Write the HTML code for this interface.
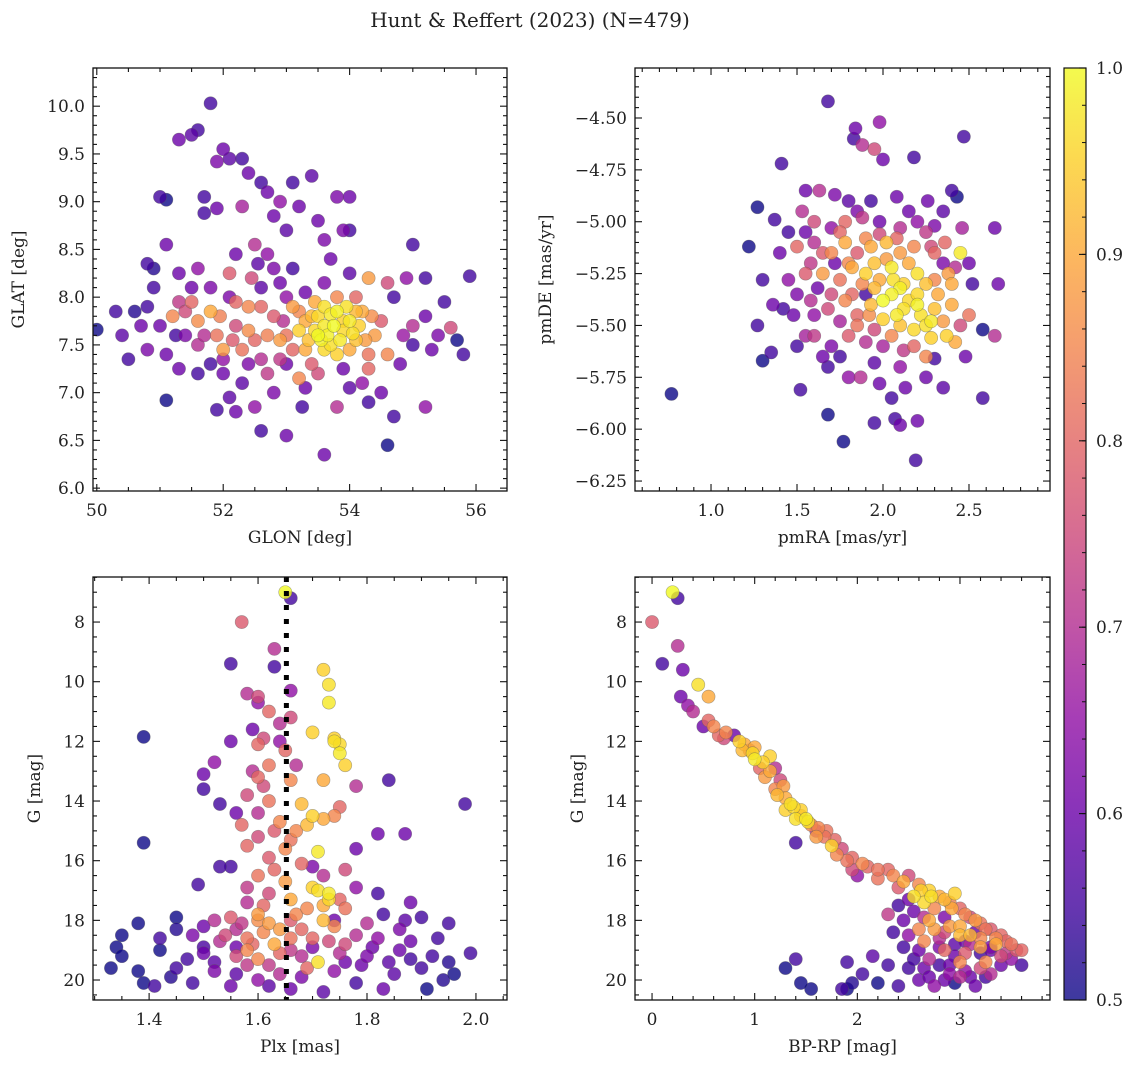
<!DOCTYPE html>
<html><head><meta charset="utf-8">
<style>
html,body{margin:0;padding:0;background:#fff;}
svg text{font-family:"DejaVu Serif","Liberation Serif",serif;fill:#222;}
</style></head>
<body>
<svg id="fig" width="1136" height="1067" viewBox="0 0 1136 1067" xmlns="http://www.w3.org/2000/svg">
<text x="530" y="27" font-size="20" text-anchor="middle">Hunt &amp; Reffert (2023) (N=479)</text>
<defs><linearGradient id="cbg" x1="0" y1="1" x2="0" y2="0">
<stop offset="0" stop-color="#0d0887"/><stop offset="0.1" stop-color="#41049d"/><stop offset="0.2" stop-color="#6a00a8"/><stop offset="0.3" stop-color="#8f0da4"/><stop offset="0.4" stop-color="#b12a90"/><stop offset="0.5" stop-color="#cc4778"/><stop offset="0.6" stop-color="#e16462"/><stop offset="0.7" stop-color="#f2844b"/><stop offset="0.8" stop-color="#fca636"/><stop offset="0.9" stop-color="#fcce25"/><stop offset="1" stop-color="#f0f921"/></linearGradient></defs>
</svg>
<script>
// ---- data (x, y, membership probability) ----
const skyStars=[[51.8,10.03,.55],[51.6,9.75,.55],[51.5,9.7,.58],[51.3,9.65,.6],[52.0,9.55,.6],[52.1,9.45,.58],[52.3,9.45,.55],[51.9,9.42,.62],[52.4,9.3,.6],[52.6,9.2,.55],[53.1,9.2,.55],[53.4,9.27,.58],[52.7,9.1,.6],[51.7,9.05,.55],[51.1,9.02,.5],[51.0,9.05,.55],[53.8,9.05,.62],[54.0,9.05,.6],[52.9,9.0,.65],[53.2,8.95,.6],[52.3,8.95,.68],[51.9,8.93,.6],[51.7,8.88,.55],[52.8,8.85,.6],[53.5,8.8,.6],[54.0,8.7,.55],[53.9,8.7,.62],[53.0,8.7,.58],[55.0,8.55,.55],[51.1,8.55,.6],[52.5,8.55,.7],[53.6,8.6,.62],[52.2,8.45,.6],[52.7,8.45,.65],[53.7,8.4,.6],[55.9,8.22,.55],[50.8,8.35,.55],[50.9,8.3,.52],[51.3,8.25,.6],[51.6,8.3,.65],[52.1,8.25,.78],[52.8,8.3,.62],[53.1,8.3,.55],[54.3,8.2,.88],[54.6,8.15,.75],[54.9,8.2,.65],[55.5,7.95,.55],[55.2,7.8,.6],[55.0,7.7,.7],[55.6,7.68,.75],[50.0,7.66,.5],[50.3,7.85,.55],[50.6,7.85,.52],[50.4,7.6,.58],[50.7,7.7,.6],[50.8,7.45,.62],[51.1,7.4,.6],[51.2,7.8,.85],[51.5,7.95,.8],[51.4,7.6,.62],[51.6,7.5,.7],[51.8,7.85,.9],[51.9,7.6,.82],[52.0,7.45,.88],[52.2,7.7,.75],[52.4,7.9,.85],[52.5,7.55,.8],[52.6,7.35,.7],[52.8,7.8,.78],[52.9,7.55,.88],[53.0,7.3,.6],[53.1,7.9,.88],[53.2,7.65,.95],[53.3,7.45,.9],[53.4,7.8,.92],[53.5,7.6,1.0],[53.6,7.7,.98],[53.7,7.5,.97],[53.8,7.85,.99],[53.9,7.65,.96],[54.0,7.75,.98],[54.1,7.55,.93],[53.6,7.9,.97],[53.8,7.4,.95],[54.2,7.85,.9],[54.4,7.6,.88],[54.6,7.4,.85],[54.8,7.3,.6],[55.0,7.5,.55],[55.3,7.45,.6],[55.7,7.55,.5],[55.8,7.4,.55],[54.5,7.0,.6],[54.7,6.75,.55],[55.2,6.85,.65],[54.6,6.45,.5],[53.6,6.35,.6],[53.0,6.55,.6],[52.6,6.6,.55],[52.5,6.85,.65],[51.9,6.82,.55],[52.2,6.8,.6],[51.1,6.92,.5],[52.8,7.0,.62],[53.2,7.15,.85],[53.8,6.85,.7],[54.0,7.05,.58],[51.6,7.2,.55],[52.0,7.2,.6],[52.3,7.1,.58],[50.5,7.35,.55],[51.3,7.25,.6],[52.7,7.2,.72],[53.4,7.3,.78],[54.3,7.25,.8],[52.1,8.0,.62],[52.6,8.1,.58],[53.3,8.05,.6],[54.7,8.0,.55],[50.9,8.1,.55],[51.5,8.1,.6],[53.55,7.55,.99],[53.95,7.9,.97],[53.75,7.7,1.0],[53.45,7.65,.96],[54.15,7.7,.95],[53.3,7.75,.9],[52.3,7.45,.82],[51.6,7.75,.86],[52.7,7.6,.84]];
const skyStarsExtra=[[53.65,7.6,.99],[53.85,7.55,.98],[54.05,7.62,.97],[53.5,7.8,.96],[53.7,7.82,.98],[53.9,7.75,.95],[54.1,7.85,.92],[53.35,7.55,.93],[53.6,7.45,.96],[54.0,7.45,.9],[54.25,7.55,.88],[53.2,7.85,.85],[54.35,7.8,.86],[53.45,7.95,.9],[53.8,8.0,.85],[54.1,8.0,.8],[53.0,7.6,.82],[53.1,7.45,.8],[52.95,7.75,.7],[54.3,7.4,.82],[54.5,7.75,.78],[53.0,8.0,.65],[52.6,7.9,.8],[52.4,7.65,.86],[52.15,7.55,.78],[51.95,7.8,.84],[51.7,7.6,.7],[51.4,7.85,.75],[51.25,7.6,.55],[51.0,7.7,.6],[50.8,7.9,.55],[52.4,7.3,.62],[52.0,7.35,.65],[51.8,7.3,.55],[52.9,7.35,.72],[53.5,7.2,.75],[53.9,7.25,.6],[54.2,7.1,.65],[53.3,7.05,.6],[52.45,8.2,.75],[52.9,8.15,.6],[53.6,8.15,.62],[54.0,8.25,.58],[55.2,8.2,.55],[55.4,7.6,.62],[54.85,7.6,.66],[52.55,8.35,.58],[51.8,8.1,.62],[52.2,7.95,.8],[51.3,7.95,.72],[53.25,6.85,.55],[52.1,6.95,.58],[54.3,6.9,.55]];
const pmStars=[[0.77,-5.83,.5],[1.68,-4.42,.55],[1.84,-4.55,.6],[1.98,-4.52,.65],[1.83,-4.6,.55],[1.88,-4.63,.7],[1.95,-4.65,.75],[2.47,-4.59,.55],[2.18,-4.69,.55],[1.41,-4.72,.55],[2.0,-4.7,.6],[2.4,-4.85,.55],[2.43,-4.88,.5],[1.55,-4.85,.6],[1.63,-4.85,.7],[1.72,-4.87,.62],[1.8,-4.9,.58],[1.93,-4.9,.55],[2.08,-4.88,.6],[2.26,-4.9,.6],[2.35,-4.95,.58],[1.27,-4.93,.5],[1.37,-4.99,.55],[1.53,-4.95,.7],[1.6,-5.0,.75],[1.7,-5.03,.65],[1.78,-5.0,.8],[1.88,-4.98,.72],[1.98,-5.0,.6],[2.1,-5.03,.7],[2.2,-5.0,.65],[2.3,-5.02,.62],[2.46,-5.03,.68],[2.65,-5.03,.6],[1.22,-5.12,.5],[1.4,-5.15,.6],[1.5,-5.12,.8],[1.6,-5.1,.7],[1.7,-5.15,.85],[1.78,-5.1,.9],[1.85,-5.15,.78],[1.93,-5.12,.9],[2.02,-5.1,.92],[2.1,-5.15,.88],[2.18,-5.12,.85],[2.28,-5.12,.75],[2.36,-5.1,.8],[2.45,-5.15,.98],[1.3,-5.28,.55],[1.45,-5.28,.65],[1.55,-5.25,.78],[1.65,-5.25,.88],[1.75,-5.28,.82],[1.82,-5.22,.9],[1.9,-5.25,.95],[1.98,-5.28,.9],[2.05,-5.22,.98],[2.12,-5.3,.95],[2.2,-5.25,.97],[2.3,-5.28,.85],[2.4,-5.3,.9],[2.52,-5.3,.55],[2.67,-5.3,.6],[1.27,-5.5,.55],[1.36,-5.4,.6],[1.48,-5.45,.6],[1.58,-5.38,.7],[1.68,-5.42,.75],[1.78,-5.38,.85],[1.85,-5.45,.8],[1.93,-5.4,.92],[2.0,-5.38,1.0],[2.08,-5.45,.98],[2.15,-5.38,.96],[2.22,-5.45,.97],[2.3,-5.42,.93],[2.4,-5.4,.9],[2.5,-5.45,.82],[2.58,-5.52,.5],[2.65,-5.55,.7],[1.3,-5.67,.5],[1.35,-5.63,.55],[1.5,-5.6,.55],[1.6,-5.55,.72],[1.7,-5.6,.62],[1.8,-5.55,.78],[1.9,-5.58,.7],[2.05,-5.55,.85],[2.18,-5.6,.8],[2.28,-5.56,.95],[2.37,-5.55,.95],[2.48,-5.65,.6],[1.52,-5.81,.55],[1.68,-5.7,.55],[1.8,-5.75,.65],[1.87,-5.75,.7],[1.95,-5.68,.58],[2.1,-5.7,.65],[2.25,-5.75,.6],[2.3,-5.66,.55],[2.58,-5.85,.55],[1.68,-5.93,.5],[1.77,-6.06,.5],[1.95,-5.97,.55],[2.07,-5.95,.55],[2.1,-5.98,.6],[2.2,-5.96,.6],[2.19,-6.15,.55],[2.13,-5.8,.6],[1.6,-5.45,.65],[2.0,-5.6,.68],[2.1,-5.32,.99],[2.25,-5.5,.97],[1.95,-5.2,.93],[2.15,-5.2,.9],[1.72,-5.2,.6],[1.9,-5.35,.55],[2.35,-5.2,.62]];
const pmStarsExtra=[[2.05,-5.35,.99],[2.12,-5.42,.97],[2.2,-5.35,.96],[2.28,-5.48,.98],[2.0,-5.47,.95],[1.95,-5.32,.92],[2.25,-5.3,.93],[2.32,-5.35,.9],[2.18,-5.52,.96],[2.1,-5.5,.93],[1.88,-5.3,.85],[1.82,-5.35,.8],[2.38,-5.25,.88],[2.02,-5.18,.88],[1.9,-5.08,.85],[1.75,-5.05,.8],[1.65,-5.15,.78],[1.58,-5.2,.72],[1.5,-5.35,.62],[1.62,-5.32,.6],[1.7,-5.35,.75],[1.75,-5.48,.68],[1.85,-5.5,.82],[1.95,-5.52,.75],[2.12,-5.62,.72],[2.25,-5.65,.85],[2.35,-5.48,.88],[2.45,-5.5,.75],[2.42,-5.22,.7],[2.5,-5.2,.6],[1.55,-5.05,.6],[1.45,-5.05,.55],[1.42,-5.42,.55],[1.55,-5.55,.68],[1.65,-5.65,.6],[1.75,-5.65,.55],[1.98,-5.78,.6],[2.05,-5.85,.55],[2.35,-5.8,.58],[1.85,-4.95,.62],[2.15,-4.95,.6],[2.25,-5.05,.72],[1.98,-5.06,.75],[2.08,-5.08,.8],[1.8,-5.2,.85],[2.3,-5.15,.8],[2.2,-5.4,.99],[2.06,-5.28,.97],[1.92,-5.45,.86],[2.42,-5.58,.9]];
const plxStars=[[1.65,7.0,1.0],[1.66,7.2,.55],[1.57,8.0,.78],[1.63,8.9,.7],[1.55,9.4,.55],[1.63,9.5,.55],[1.72,9.6,.95],[1.73,10.1,.97],[1.58,10.4,.7],[1.6,10.5,.75],[1.73,10.7,.98],[1.6,10.7,.65],[1.62,11.0,.8],[1.66,11.2,.75],[1.64,11.4,.7],[1.59,11.6,.6],[1.7,11.7,.95],[1.39,11.85,.5],[1.61,11.9,.75],[1.74,12.0,.97],[1.55,12.0,.6],[1.6,12.1,.8],[1.75,12.4,.98],[1.65,12.3,.8],[1.52,12.7,.65],[1.62,12.8,.82],[1.76,12.8,.95],[1.5,13.1,.6],[1.6,13.2,.8],[1.66,13.3,.85],[1.72,13.3,.9],[1.84,13.3,.55],[1.78,13.5,.7],[1.58,13.8,.75],[1.62,14.0,.82],[1.68,14.1,.92],[1.53,14.1,.55],[1.75,14.2,.8],[1.6,14.4,.7],[1.7,14.5,.95],[1.64,14.7,.85],[1.57,14.8,.8],[1.72,14.6,.9],[1.67,15.0,.85],[1.82,15.1,.6],[1.39,15.4,.5],[1.6,15.2,.75],[1.58,15.5,.8],[1.65,15.6,.85],[1.71,15.7,.98],[1.62,15.9,.78],[1.55,16.2,.55],[1.68,16.1,.8],[1.76,16.3,.75],[1.6,16.5,.82],[1.65,16.7,.88],[1.7,16.9,.95],[1.49,16.8,.55],[1.73,17.1,.98],[1.78,16.9,.65],[1.82,17.1,.55],[1.88,17.4,.6],[1.62,17.1,.75],[1.58,17.4,.7],[1.72,17.5,.9],[1.76,17.6,.82],[1.67,17.8,.85],[1.6,17.8,.88],[1.55,17.9,.78],[1.45,17.9,.5],[1.9,17.9,.55],[1.38,18.1,.5],[1.5,18.2,.6],[1.56,18.3,.7],[1.62,18.1,.88],[1.68,18.3,.8],[1.74,18.2,.85],[1.8,18.1,.7],[1.86,18.3,.62],[1.95,18.1,.55],[1.35,18.5,.5],[1.42,18.6,.55],[1.48,18.5,.62],[1.53,18.7,.7],[1.58,18.6,.82],[1.63,18.8,.9],[1.7,18.6,.8],[1.76,18.8,.75],[1.82,18.6,.65],[1.88,18.7,.6],[1.93,18.6,.55],[1.34,18.9,.5],[1.42,19.0,.5],[1.5,19.1,.6],[1.56,19.2,.75],[1.6,19.3,.85],[1.66,19.0,.72],[1.71,19.4,.97],[1.75,19.1,.7],[1.8,19.2,.62],[1.86,19.0,.6],[1.92,19.2,.55],[1.99,19.1,.55],[1.33,19.6,.5],[1.38,19.7,.5],[1.45,19.6,.55],[1.52,19.7,.62],[1.58,19.5,.72],[1.64,19.8,.7],[1.69,19.6,.8],[1.74,19.7,.65],[1.79,19.5,.6],[1.85,19.8,.58],[1.9,19.6,.55],[1.96,19.8,.5],[1.39,20.1,.5],[1.41,20.2,.55],[1.48,20.1,.55],[1.55,20.2,.6],[1.6,20.0,.65],[1.66,20.3,.6],[1.72,20.4,.58],[1.78,20.1,.55],[1.83,20.3,.6],[1.91,20.3,.5],[1.98,14.1,.55],[1.87,15.1,.6],[1.5,13.6,.55],[1.61,18.4,.85],[1.64,19.1,.8],[1.58,19.0,.85],[1.7,18.9,.62],[1.56,18.9,.6],[1.73,17.3,.96],[1.74,18.0,.6]];
const plxStarsExtra=[[1.6,18.0,.86],[1.64,18.3,.88],[1.59,18.8,.8],[1.62,19.5,.72],[1.66,18.6,.82],[1.68,19.2,.7],[1.54,18.5,.75],[1.57,18.1,.72],[1.61,17.5,.8],[1.66,17.3,.9],[1.69,17.6,.85],[1.72,18.0,.92],[1.71,17.0,.97],[1.75,17.3,.8],[1.78,18.5,.7],[1.73,18.7,.75],[1.76,19.4,.6],[1.68,19.9,.62],[1.62,20.2,.58],[1.56,19.8,.58],[1.52,19.4,.58],[1.5,18.9,.56],[1.47,19.3,.55],[1.45,18.3,.52],[1.44,19.9,.52],[1.35,19.2,.5],[1.81,18.9,.6],[1.84,19.4,.58],[1.88,19.3,.55],[1.95,19.4,.52],[1.94,20.0,.52],[1.87,18.0,.58],[1.83,17.8,.55],[1.58,16.9,.72],[1.63,16.3,.8],[1.66,15.3,.82],[1.63,15.0,.78],[1.69,14.8,.92],[1.74,14.5,.85],[1.61,13.5,.75],[1.67,12.8,.7],[1.64,12.0,.65],[1.59,13.0,.7],[1.56,14.4,.6],[1.72,16.5,.7],[1.7,16.2,.62],[1.78,15.6,.6],[1.53,16.2,.55],[1.66,10.3,.65],[1.74,11.9,.95],[1.75,12.1,.96],[1.66,18.0,.78],[1.52,18.0,.7]];
const cmdStars=[[0.2,7.0,1.0],[0.25,7.2,.55],[0.0,8.0,.78],[0.25,8.8,.7],[0.1,9.4,.55],[0.3,9.6,.6],[0.45,10.1,.97],[0.55,10.5,.9],[0.28,10.5,.6],[0.35,10.8,.65],[0.5,11.5,.6],[0.6,11.5,.85],[0.65,11.8,.8],[0.8,11.8,.6],[0.9,12.1,.9],[0.95,12.3,.85],[1.0,12.6,.98],[1.15,12.5,.95],[1.05,12.9,.8],[1.1,13.2,.88],[1.25,13.3,.75],[1.2,13.6,.85],[1.3,13.9,.9],[1.35,14.1,.97],[1.45,14.3,.95],[1.5,14.6,.98],[1.55,14.8,.85],[1.7,15.0,.82],[1.6,15.2,.88],[1.75,15.5,.95],[1.8,15.8,.85],[1.9,16.0,.82],[2.1,16.2,.8],[2.3,16.3,.8],[2.5,16.5,.75],[2.6,16.8,.85],[2.7,17.0,.95],[2.8,17.2,.9],[2.9,17.4,.85],[3.0,17.6,.8],[3.1,17.9,.75],[3.2,18.1,.82],[3.3,18.3,.78],[3.4,18.5,.8],[3.5,18.8,.82],[3.6,19.0,.8],[1.4,15.4,.55],[2.0,16.5,.65],[0.7,11.9,.75],[0.85,12.0,.95],[1.0,12.2,.9],[1.2,12.9,.7],[1.3,14.3,.95],[1.4,14.6,.97],[1.6,15.0,.7],[1.95,16.3,.75],[2.2,16.6,.82],[2.4,16.9,.78],[2.55,17.2,.97],[2.65,17.4,.96],[2.75,17.6,.85],[2.95,17.1,.95],[2.5,17.3,.6],[2.4,17.5,.55],[2.3,17.8,.72],[2.35,18.4,.55],[2.5,18.5,.65],[2.6,18.3,.85],[2.7,18.0,.9],[2.8,18.6,.7],[2.9,18.2,.88],[3.0,18.5,.92],[3.1,18.8,.7],[3.2,18.6,.85],[3.3,19.0,.6],[3.4,19.2,.75],[3.5,19.3,.65],[3.6,19.5,.55],[2.6,19.0,.6],[2.7,19.3,.7],[2.8,19.5,.55],[2.9,19.8,.65],[3.0,19.4,.85],[3.1,19.9,.6],[3.2,19.6,.75],[3.3,19.8,.7],[2.5,19.6,.55],[2.6,20.0,.6],[2.75,20.2,.65],[2.95,20.1,.5],[3.15,20.2,.6],[2.4,20.2,.55],[2.2,20.1,.5],[1.9,20.3,.5],[1.95,20.1,.52],[1.85,20.3,.55],[1.55,20.3,.5],[1.45,20.1,.5],[1.3,19.6,.5],[1.4,19.3,.55],[1.9,19.4,.55],[2.15,19.2,.58],[2.3,19.5,.55],[2.05,19.8,.55],[2.85,19.0,.8],[3.05,19.1,.78],[3.35,18.8,.9],[2.45,18.0,.6],[2.95,18.8,.58],[3.15,18.4,.6],[2.85,17.9,.62],[3.25,19.4,.85],[2.65,18.7,.85]];
const cmdStarsExtra=[[0.4,11.0,.7],[0.55,11.3,.8],[0.72,11.7,.85],[0.88,12.3,.92],[0.98,12.4,.96],[1.08,12.7,.95],[1.15,13.0,.9],[1.28,13.5,.88],[1.22,13.8,.92],[1.38,14.2,.96],[1.45,14.5,.9],[1.52,14.7,.97],[1.62,14.9,.85],[1.68,15.2,.82],[1.78,15.3,.8],[1.85,15.6,.75],[1.95,15.9,.8],[2.05,16.1,.85],[2.2,16.3,.82],[2.35,16.5,.85],[2.45,16.7,.9],[2.62,17.0,.95],[2.72,17.2,.97],[2.85,17.3,.92],[2.92,17.6,.9],[3.05,17.8,.85],[3.15,18.0,.88],[3.25,18.3,.82],[3.35,18.6,.85],[3.45,18.7,.8],[3.55,19.0,.78],[3.45,19.1,.72],[3.3,18.9,.62],[3.2,19.1,.55],[3.05,18.7,.6],[2.95,19.2,.6],[2.8,18.9,.62],[2.75,18.3,.88],[2.85,18.4,.75],[3.0,18.2,.9],[3.1,18.5,.92],[3.2,18.9,.88],[2.65,19.6,.6],[2.9,19.5,.6],[3.05,19.7,.65],[3.25,19.9,.55],[2.7,19.9,.6],[2.55,19.3,.55],[2.45,18.9,.55],[2.55,17.7,.6],[2.65,17.9,.7],[3.0,19.9,.7],[2.85,20.0,.6],[3.4,19.5,.6]];
// colorbar ticks
const cbTicks=[0.5,0.6,0.7,0.8,0.9,1.0];

const NS='http://www.w3.org/2000/svg';
const svg=document.getElementById('fig');
function mk(tag,attrs,parent){const e=document.createElementNS(NS,tag);for(const k in attrs)e.setAttribute(k,attrs[k]);(parent||svg).appendChild(e);return e;}
const stops=[[0,13,8,135],[.1,65,4,157],[.2,106,0,168],[.3,143,13,164],[.4,177,42,144],[.5,204,71,120],[.6,225,100,98],[.7,242,132,75],[.8,252,166,54],[.9,252,206,37],[1,240,249,33]];
function plasma(p){let t=Math.max(0,Math.min(1,(p-0.5)/0.5));for(let i=1;i<stops.length;i++){if(t<=stops[i][0]){const a=stops[i-1],b=stops[i],f=(t-a[0])/(b[0]-a[0]);return `rgb(${Math.round(a[1]+f*(b[1]-a[1]))},${Math.round(a[2]+f*(b[2]-a[2]))},${Math.round(a[3]+f*(b[3]-a[3]))})`;}}return 'rgb(240,249,33)';}
function fmt(v,d){return (v<0?'\u2212':'')+Math.abs(v).toFixed(d);}

function panel(cfg){
  const {name,L,R,T,B,x0,x1,y0,y1,yInv,data,xMaj,xMin,xDec,yMaj,yMin,yDec,xlab,ylab,ylabX}=cfg;
  const g=mk('g',{});
  
  
  const sx=v=>L+(v-x0)/(x1-x0)*(R-L);
  const sy=v=>yInv? T+(v-y0)/(y1-y0)*(B-T) : B-(v-y0)/(y1-y0)*(B-T);
  const clipId=name+'-clip';
  const cp=mk('clipPath',{id:clipId},g);mk('rect',{x:L,y:T,width:R-L,height:B-T},cp);
  const pts=mk('g',{'clip-path':`url(#${clipId})`},g);
  const sorted=data.slice().sort((a,b)=>a[2]-b[2]);
  for(const d of sorted){
    const c=mk('circle',{cx:sx(d[0]),cy:sy(d[1]),r:6.6,fill:plasma(d[2]),'fill-opacity':0.8,stroke:'rgba(90,90,90,0.5)','stroke-width':0.6},pts);
    
    
  }
  if(cfg.vline!==undefined){
    const l=mk('line',{x1:sx(cfg.vline),x2:sx(cfg.vline),y1:T,y2:B,stroke:'#000','stroke-width':5,'stroke-dasharray':'5,9'},pts);
    
    
  }
  mk('rect',{x:L,y:T,width:R-L,height:B-T,fill:'none',stroke:'#111','stroke-width':1.3},g);
  const tk=mk('g',{stroke:'#111','stroke-width':1.1},g);
  const eps=1e-6;
  for(let v=Math.ceil(x0/xMin-eps)*xMin;v<=x1+eps;v+=xMin){
    const isMaj=Math.abs(v/xMaj-Math.round(v/xMaj))<1e-4;const len=isMaj?7:4;const x=sx(v);
    mk('line',{x1:x,x2:x,y1:B,y2:B-len},tk);mk('line',{x1:x,x2:x,y1:T,y2:T+len},tk);
    if(isMaj){const t=mk('text',{x:x,y:B+25,'font-size':17,'text-anchor':'middle',stroke:'none'},g);t.textContent=fmt(Math.round(v/xMaj)*xMaj,xDec);
      }
  }
  const ylo=Math.min(y0,y1),yhi=Math.max(y0,y1);
  for(let v=Math.ceil(ylo/yMin-eps)*yMin;v<=yhi+eps;v+=yMin){
    const isMaj=Math.abs(v/yMaj-Math.round(v/yMaj))<1e-4;const len=isMaj?7:4;const y=sy(v);
    mk('line',{x1:L,x2:L+len,y1:y,y2:y},tk);mk('line',{x1:R,x2:R-len,y1:y,y2:y},tk);
    if(isMaj){const t=mk('text',{x:L-8,y:y+6,'font-size':17,'text-anchor':'end',stroke:'none'},g);t.textContent=fmt(Math.round(v/yMaj)*yMaj,yDec);
      }
  }
  const xl=mk('text',{x:(L+R)/2,y:B+52,'font-size':17,'text-anchor':'middle'},g);xl.textContent=xlab;
  
  const yl=mk('text',{x:ylabX,y:(T+B)/2,'font-size':17,'text-anchor':'middle',transform:`rotate(-90 ${ylabX} ${(T+B)/2})`},g);yl.textContent=ylab;
  
}
panel({name:'glon-glat-panel',L:93,R:507,T:68,B:491,x0:49.94,x1:56.49,y0:5.97,y1:10.40,data:skyStars.concat(skyStarsExtra),xMaj:2,xMin:0.5,xDec:0,yMaj:0.5,yMin:0.1,yDec:1,xlab:'GLON [deg]',ylab:'GLAT [deg]',ylabX:24});
panel({name:'proper-motion-panel',L:635,R:1050,T:68,B:491,x0:0.558,x1:2.971,y0:-6.298,y1:-4.259,data:pmStars.concat(pmStarsExtra),xMaj:0.5,xMin:0.1,xDec:1,yMaj:0.25,yMin:0.05,yDec:2,xlab:'pmRA [mas/yr]',ylab:'pmDE [mas/yr]',ylabX:551});
panel({name:'parallax-magnitude-panel',L:93,R:507,T:577,B:1000,x0:1.297,x1:2.057,y0:6.49,y1:20.67,yInv:true,data:plxStars.concat(plxStarsExtra),xMaj:0.2,xMin:0.05,xDec:1,yMaj:2,yMin:0.5,yDec:0,xlab:'Plx [mas]',ylab:'G [mag]',ylabX:40,vline:1.652});
panel({name:'color-magnitude-panel',L:635,R:1050,T:577,B:1000,x0:-0.166,x1:3.877,y0:6.49,y1:20.67,yInv:true,data:cmdStars.concat(cmdStarsExtra),xMaj:1,xMin:0.2,xDec:0,yMaj:2,yMin:0.5,yDec:0,xlab:'BP-RP [mag]',ylab:'G [mag]',ylabX:583});

// colorbar
const cb=mk('g',{});


const cT=68,cB=1000,cL=1064,cR=1086;
mk('rect',{x:cL,y:cT,width:cR-cL,height:cB-cT,fill:'url(#cbg)','fill-opacity':0.8},cb);
mk('rect',{x:cL,y:cT,width:cR-cL,height:cB-cT,fill:'none',stroke:'#111','stroke-width':1.2},cb);
const cy=v=>cB-(v-0.5)/0.5*(cB-cT);
for(let v=0.5;v<=1.0001;v+=0.02){mk('line',{x1:cR,x2:cR-4,y1:cy(v),y2:cy(v),stroke:'#111','stroke-width':1},cb);}
for(const v of cbTicks){mk('line',{x1:cR,x2:cR-7,y1:cy(v),y2:cy(v),stroke:'#111','stroke-width':1.1},cb);
  const t=mk('text',{x:cR+10,y:cy(v)+6,'font-size':17},cb);t.textContent=v.toFixed(1);
  }
</script>
</body></html>
